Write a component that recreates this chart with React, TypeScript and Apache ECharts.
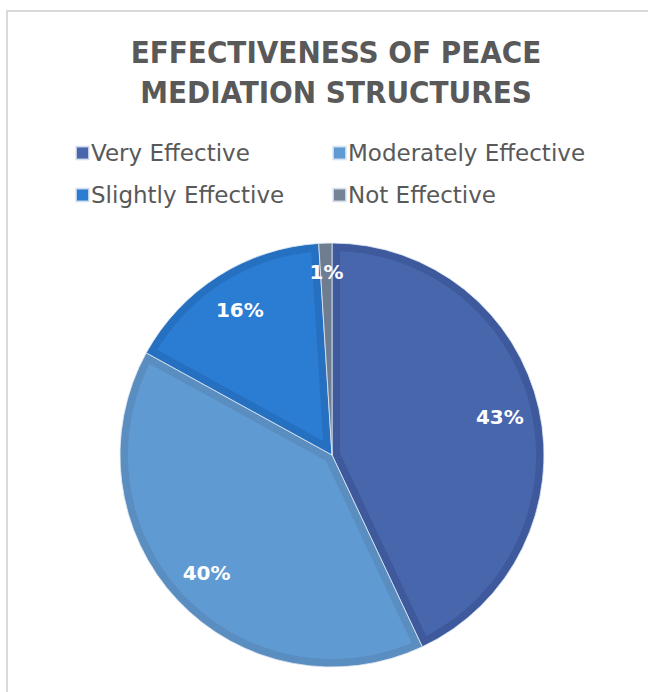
import React, { useEffect, useRef } from "react";
import * as echarts from "echarts";

const categories = ["Very Effective", "Moderately Effective", "Slightly Effective", "Not Effective"];
const values = [43, 40, 16, 1];
const fillColors = ["#4766AC", "#5F9BD2", "#2B7CD3", "#758397"];
const bandColors = ["#3E5A9D", "#5A8DC0", "#2670C1", "#6F7D91"];
const titleText = "EFFECTIVENESS OF PEACE\nMEDIATION STRUCTURES";

const CX = 332;
const CY = 455;
const R = 212;
const INSET = 8;
const FONT = "'DejaVu Sans', sans-serif";

export default function App() {
  const ref = useRef<HTMLDivElement>(null);
  useEffect(() => {
    if (!ref.current) return;
    const chart = echarts.init(ref.current, null, { renderer: "svg" });
    const total = values.reduce((a, b) => a + b, 0);
    const renderItem = (params: any) => {
      const i = params.dataIndex;
      let before = 0;
      for (let j = 0; j < i; j++) before += values[j];
      const a0 = (before / total) * Math.PI * 2;
      const a1 = ((before + values[i]) / total) * Math.PI * 2;
      const h = (a1 - a0) / 2;
      const rIn = R - INSET;
      const apexDist = INSET / Math.sin(h);
      if (!(apexDist < rIn)) return { type: "group", children: [] };
      const t = Math.sqrt(rIn * rIn - INSET * INSET);
      const da = Math.atan2(INSET, t);
      const s = a0 + da;
      const e = a1 - da;
      const pt = (ang: number, r: number) => [CX + r * Math.sin(ang), CY - r * Math.cos(ang)];
      const pts: number[][] = [pt((a0 + a1) / 2, apexDist)];
      const n = Math.max(2, Math.ceil((e - s) / 0.02));
      for (let k = 0; k <= n; k++) pts.push(pt(s + ((e - s) * k) / n, rIn));
      return { type: "polygon", shape: { points: pts }, style: { fill: fillColors[i] }, silent: true };
    };
    chart.setOption({
      animation: false,
      backgroundColor: "#ffffff",
      title: {
        text: titleText,
        left: 331,
        textAlign: "center",
        top: 27,
        textStyle: {
          fontFamily: "'DejaVu Sans Condensed', 'DejaVu Sans', sans-serif",
          fontWeight: "bold",
          fontSize: 31,
          lineHeight: 40,
          color: "#595959",
        },
      },
      legend: {
        left: 75,
        top: 136,
        width: 530,
        padding: 0,
        orient: "horizontal",
        itemWidth: 13,
        itemHeight: 13,
        itemGap: 8,
        icon: "rect",
        selectedMode: false,
        data: categories.map((name, i) => ({ name, itemStyle: { color: fillColors[i] } })),
        textStyle: {
          fontFamily: FONT,
          fontSize: 23,
          color: "#595959",
          width: 233,
          lineHeight: 34,
          padding: [0, 0, 0, -3],
        },
      },
      graphic: [
        {
          type: "rect",
          shape: { x: 7, y: 11, width: 1000, height: 1000 },
          style: { fill: "none", stroke: "#d9d9d9", lineWidth: 2 },
          silent: true,
          z: -10,
        },
      ],
      series: [
        {
          type: "pie",
          center: [CX, CY],
          radius: [0, R],
          startAngle: 90,
          clockwise: true,
          z: 1,
          silent: true,
          label: { show: false },
          labelLine: { show: false },
          itemStyle: { borderColor: "rgba(225,232,242,0.8)", borderWidth: 1 },
          data: categories.map((name, i) => ({
            name,
            value: values[i],
            itemStyle: { color: bandColors[i] },
          })),
        },
        {
          type: "custom",
          coordinateSystem: "none",
          z: 2,
          silent: true,
          renderItem,
          data: values.map((v) => [v]),
        },
        {
          type: "pie",
          center: [CX, CY],
          radius: [126, R],
          startAngle: 90,
          clockwise: true,
          z: 3,
          silent: true,
          itemStyle: { color: "rgba(0,0,0,0)" },
          label: {
            show: true,
            position: "inside",
            formatter: "{c}%",
            color: "#ffffff",
            fontFamily: FONT,
            fontWeight: "bold",
            fontSize: 20,
          },
          labelLine: { show: false },
          data: categories.map((name, i) => ({
            name: name + " ",
            value: values[i],
            label: i === 3 ? { offset: [0, -11] } : undefined,
          })),
        },
      ],
    });
    return () => chart.dispose();
  }, []);
  return (
    <div
      ref={ref}
      style={{ position: "fixed", left: 0, top: 0, width: 648, height: 692 }}
    />
  );
}
